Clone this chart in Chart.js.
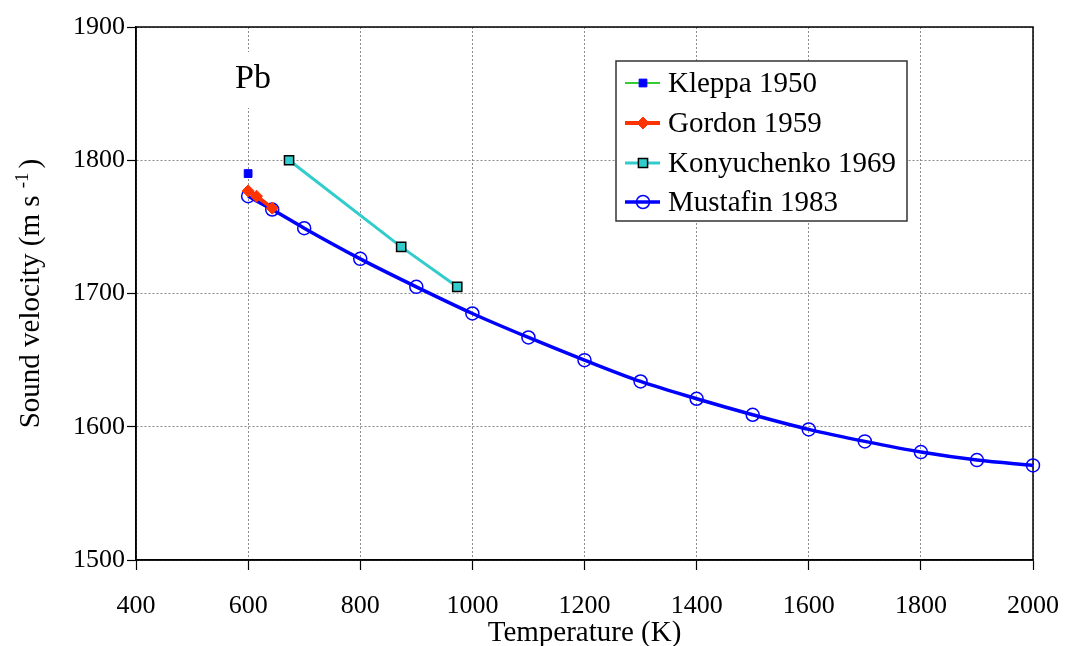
<!DOCTYPE html>
<html>
<head>
<meta charset="utf-8">
<script src="https://cdn.jsdelivr.net/npm/chart.js@4/dist/chart.umd.min.js"></script>
<style>
  html, body { margin: 0; padding: 0; background: #fff; }
</style>
</head>
<body>
<canvas id="chart" width="1067" height="646"></canvas>
<script>
// ---- data ----
const kleppaT      = [600];
const kleppaV      = [1790];
const gordonT      = [600, 615, 643];
const gordonV      = [1777, 1773, 1764];
const konyuchenkoT = [673, 873, 973];
const konyuchenkoV = [1800, 1735, 1705];
const mustafinT    = [600, 643, 700, 800, 900, 1000, 1100, 1200, 1300, 1400, 1500, 1600, 1700, 1800, 1900, 2000];
const mustafinV    = [1773, 1763, 1749, 1726, 1705, 1685, 1667, 1650, 1634, 1621, 1609, 1598, 1589, 1581, 1575, 1571];

const seriesNames  = ['Kleppa 1950', 'Gordon 1959', 'Konyuchenko 1969', 'Mustafin 1983'];
const xRange       = [400, 2000];
const yRange       = [1500, 1900];
const elementLabel = 'Pb';

const FONT = "'Liberation Serif', 'Times New Roman', serif";

const pts = (xs, ys) => xs.map((x, i) => ({ x, y: ys[i] }));

// frame + Pb label, drawn under the data
const framePlugin = {
  id: 'frame',
  beforeDatasetsDraw(chart) {
    const { ctx, chartArea: a } = chart;
    ctx.save();
    // label sits on a white patch that cuts the 600 K gridline
    ctx.fillStyle = '#fff';
    ctx.fillRect(229, 52, 48, 56);
    ctx.fillStyle = '#000';
    ctx.font = `34px ${FONT}`;
    ctx.textAlign = 'center';
    ctx.textBaseline = 'middle';
    ctx.fillText(elementLabel, 253, 79);
    ctx.strokeStyle = '#000';
    ctx.lineWidth = 1.5;
    ctx.strokeRect(a.left, a.top, a.right - a.left, a.bottom - a.top);
    ctx.restore();
  }
};

function legendMarker(ctx, ds, x, y) {
  ctx.save();
  ctx.fillStyle = ds.pointBackgroundColor;
  ctx.strokeStyle = ds.pointBorderColor;
  ctx.lineWidth = ds.pointBorderWidth;
  Chart.helpers.drawPoint(ctx, {
    pointStyle: ds.pointStyle,
    radius: ds.pointRadius,
    borderWidth: ds.pointBorderWidth,
    rotation: 0
  }, x, y);
  ctx.restore();
}

// y title with superscript, legend box
const extrasPlugin = {
  id: 'extras',
  afterDraw(chart) {
    const { ctx, chartArea: a } = chart;
    ctx.save();

    // y axis title
    const main = 'Sound velocity (m s ';
    const sup  = '-1';
    const tail = ')';
    ctx.translate(29, (a.top + a.bottom) / 2);
    ctx.rotate(-Math.PI / 2);
    ctx.fillStyle = '#000';
    ctx.textBaseline = 'alphabetic';
    ctx.font = `29px ${FONT}`;
    const wMain = ctx.measureText(main).width;
    const wTail = ctx.measureText(tail).width;
    ctx.font = `19px ${FONT}`;
    const wSup = ctx.measureText(sup).width;
    const total = wMain + wSup + 4 + wTail;
    const x0 = -total / 2;
    ctx.font = `29px ${FONT}`;
    ctx.fillText(main, x0, 10);
    ctx.font = `19px ${FONT}`;
    ctx.fillText(sup, x0 + wMain, -1);
    ctx.font = `29px ${FONT}`;
    ctx.fillText(tail, x0 + wMain + wSup + 4, 10);
    ctx.setTransform(1, 0, 0, 1, 0, 0);

    // legend
    const box = { x: 616, y: 61, w: 291, h: 160 };
    ctx.fillStyle = '#fff';
    ctx.fillRect(box.x, box.y, box.w, box.h);
    ctx.strokeStyle = '#333';
    ctx.lineWidth = 1.5;
    ctx.strokeRect(box.x, box.y, box.w, box.h);

    const rows = [83, 123, 163, 202];
    chart.data.datasets.forEach((ds, i) => {
      const y = rows[i];
      ctx.strokeStyle = ds.borderColor;
      ctx.lineWidth = ds.borderWidth;
      ctx.beginPath();
      ctx.moveTo(625, y);
      ctx.lineTo(660, y);
      ctx.stroke();
      legendMarker(ctx, ds, 643, y);
      ctx.fillStyle = '#000';
      ctx.font = `29px ${FONT}`;
      ctx.textAlign = 'left';
      ctx.textBaseline = 'middle';
      ctx.fillText(seriesNames[i], 668, y + 1);
    });
    ctx.restore();
  }
};

new Chart(document.getElementById('chart'), {
  type: 'scatter',
  data: {
    datasets: [
      {
        label: seriesNames[0],
        data: pts(kleppaT, kleppaV),
        showLine: true,
        borderColor: '#33cc33',
        borderWidth: 2,
        pointStyle: 'rect',
        pointRadius: 5.5,
        pointBackgroundColor: '#0000ff',
        pointBorderColor: '#0000ff',
        pointBorderWidth: 1
      },
      {
        label: seriesNames[1],
        data: pts(gordonT, gordonV),
        showLine: true,
        borderColor: '#ff3300',
        borderWidth: 4,
        pointStyle: 'rectRot',
        pointRadius: 6,
        pointBackgroundColor: '#ff3300',
        pointBorderColor: '#ff3300',
        pointBorderWidth: 1
      },
      {
        label: seriesNames[2],
        data: pts(konyuchenkoT, konyuchenkoV),
        showLine: true,
        borderColor: '#33cccc',
        borderWidth: 3,
        pointStyle: 'rect',
        pointRadius: 6.5,
        pointBackgroundColor: '#33cccc',
        pointBorderColor: '#000',
        pointBorderWidth: 1.5
      },
      {
        label: seriesNames[3],
        data: pts(mustafinT, mustafinV),
        showLine: true,
        borderColor: '#0000ff',
        borderWidth: 3.5,
        cubicInterpolationMode: 'monotone',
        pointStyle: 'circle',
        pointRadius: 6.5,
        pointBackgroundColor: 'rgba(0,0,0,0)',
        pointBorderColor: '#0000ff',
        pointBorderWidth: 1.5
      }
    ]
  },
  options: {
    responsive: false,
    animation: false,
    events: [],
    clip: false,
    layout: { padding: { left: 0, top: 27, right: 34, bottom: 0 } },
    plugins: {
      legend: { display: false },
      tooltip: { enabled: false }
    },
    scales: {
      x: {
        type: 'linear',
        min: xRange[0],
        max: xRange[1],
        afterFit: s => { s.height = 86; s.paddingLeft = 0; s.paddingRight = 0; },
        afterBuildTicks: s => { s.ticks = []; for (let v = xRange[0]; v <= xRange[1]; v += 200) s.ticks.push({ value: v }); },
        ticks: { color: '#000', font: { family: FONT, size: 26, lineHeight: 1 }, padding: 23, maxRotation: 0, callback: v => String(v) },
        grid: { color: '#8a8a8a', lineWidth: 1, tickColor: '#000', tickLength: 10, tickWidth: 1.2 },
        border: { display: true, color: '#000', width: 1.5, dash: [2, 2] },
        title: {
          display: true,
          text: 'Temperature (K)',
          color: '#000',
          font: { family: FONT, size: 29, lineHeight: 1 },
          padding: { top: 0, bottom: -2 }
        }
      },
      y: {
        type: 'linear',
        min: yRange[0],
        max: yRange[1],
        afterFit: s => { s.width = 136; s.paddingTop = 0; s.paddingBottom = 0; },
        afterBuildTicks: s => { s.ticks = []; for (let v = yRange[0]; v <= yRange[1]; v += 100) s.ticks.push({ value: v }); },
        ticks: { color: '#000', font: { family: FONT, size: 26 }, padding: 2, callback: v => String(v) },
        grid: { color: '#8a8a8a', lineWidth: 1, tickColor: '#000', tickLength: 9, tickWidth: 1.2 },
        border: { display: true, color: '#000', width: 1.5, dash: [2, 2] }
      }
    }
  },
  plugins: [framePlugin, extrasPlugin]
});
</script>
</body>
</html>
